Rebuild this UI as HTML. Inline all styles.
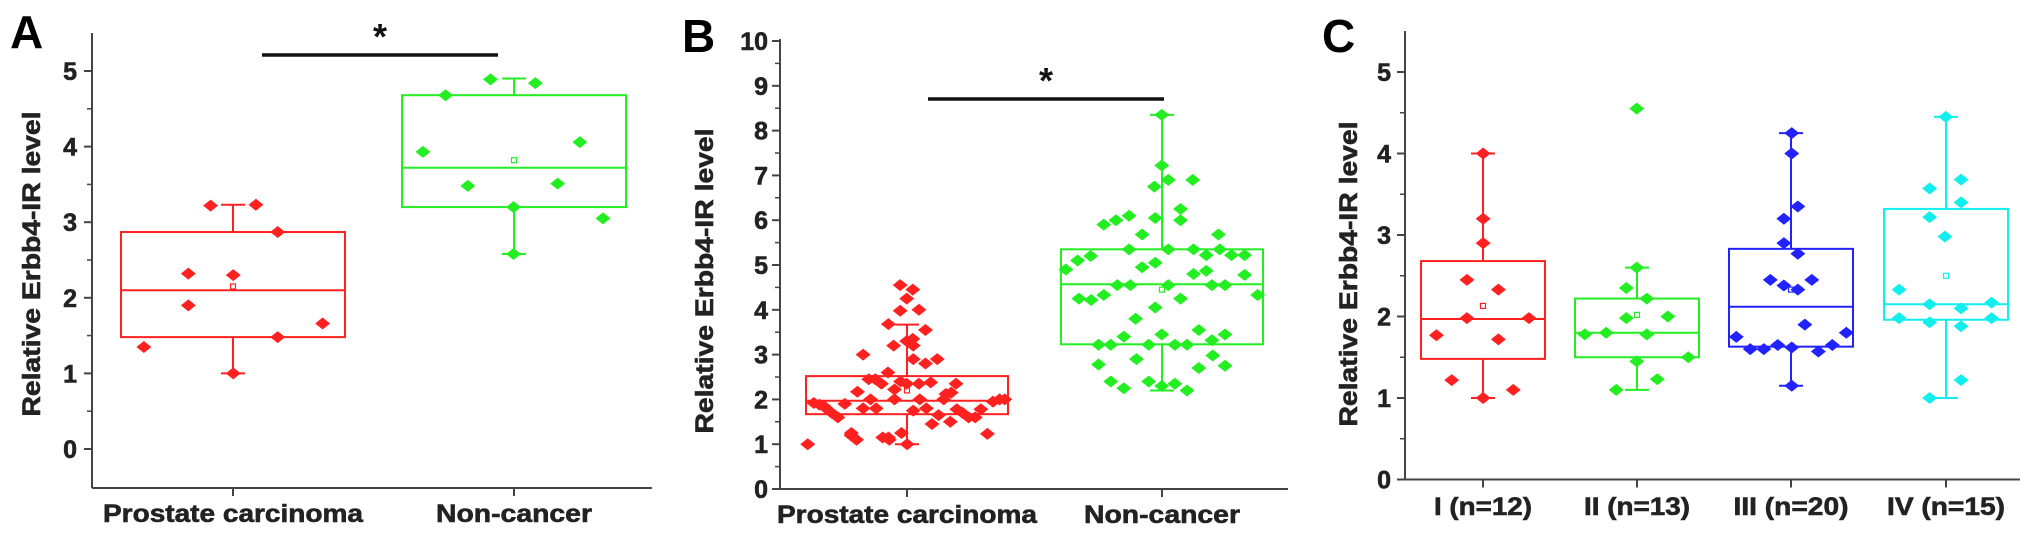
<!DOCTYPE html>
<html><head><meta charset="utf-8">
<style>
html,body{margin:0;padding:0;background:#fff;}
svg{display:block;font-family:"Liberation Sans",Arial,sans-serif;font-weight:bold;}
</style></head>
<body>
<svg id="fig" width="2031" height="535" viewBox="0 0 2031 535" xmlns="http://www.w3.org/2000/svg"></svg>
<script>
// ---------- Panel A data ----------
const aCategories = ["Prostate carcinoma", "Non-cancer"];
const aYTicks = ["0","1","2","3","4","5"];
const aStats = [ // [whiskerLow, q1, median, q3, whiskerHigh, mean]
  [1.0, 1.48, 2.1, 2.87, 3.23, 2.15],
  [2.58, 3.2, 3.72, 4.68, 4.9, 3.82]
];
const aPC = [1.35,2.32,1.9,3.22,2.3,1.0,3.23,2.87,1.48,1.66];
const aPCJit = [330,432,432,483,535,535,587,637,637,740];
const aNC = [3.93,4.68,3.48,4.89,3.2,2.58,4.84,3.51,4.06,3.05];
const aNCJit = [970,1022,1073,1125,1178,1178,1228,1279,1330,1383];

// ---------- Panel B data ----------
const bCategories = ["Prostate carcinoma", "Non-cancer"];
const bYTicks = ["0","1","2","3","4","5","6","7","8","9","10"];
const bStats = [
  [1.0, 1.67, 1.97, 2.52, 3.67, 2.2],
  [2.2, 3.23, 4.57, 5.35, 8.35, 4.45]
];
const bPC = [1.0,1.92,1.88,1.8,1.7,1.6,1.9,1.25,1.1,2.17,3.0,1.8,2.45,2.0,2.45,1.8,2.35,1.15,2.6,3.68,1.1,3.2,2.22,2.0,4.55,2.4,1.25,4.25,3.3,2.35,1.0,4.45,3.35,2.9,1.75,4.0,2.35,2.0,3.55,2.8,1.8,2.38,1.45,2.9,1.65,2.0,2.12,1.5,2.15,2.35,1.78,1.7,1.6,1.6,1.78,1.23,1.95,2.0,2.0,3.98,3.2,1.15,1.2,1.85];
const bPCJit = [293,307,320,335,348,362,378,393,405,407,420,420,433,437,448,450,462,465,477,478,480,490,492,492,505,506,508,520,520,520,521,534,534,535,535,548,548,550,563,563,565,575,578,590,593,605,610,620,622,633,635,648,662,677,690,705,718,733,745,505,535,478,392,330];
const bNC = [4.9,5.1,4.25,5.2,4.22,3.22,2.78,5.9,4.33,3.22,2.4,6.0,4.55,3.4,2.25,6.1,5.35,4.55,3.8,2.9,5.68,4.95,3.22,2.4,6.75,5.05,4.05,6.05,7.22,3.45,2.3,6.9,5.35,4.55,3.22,2.35,6.25,6.0,4.25,3.22,2.2,6.9,5.35,4.8,3.55,2.7,5.22,4.87,4.55,3.32,2.98,5.68,5.35,4.55,3.45,2.75,5.22,5.22,4.78,4.33,8.35];
const bNCJit = [885,912,915,942,943,960,960,972,972,988,988,1000,1003,1018,1018,1030,1030,1033,1045,1047,1060,1060,1075,1075,1088,1090,1090,1090,1105,1105,1105,1120,1120,1120,1135,1135,1148,1148,1148,1163,1163,1176,1178,1178,1190,1190,1207,1207,1220,1220,1222,1235,1238,1250,1250,1250,1265,1295,1295,1325,1105];

// ---------- Panel C data ----------
const cCategories = ["I (n=12)","II (n=13)","III (n=20)","IV (n=15)"];
const cYTicks = ["0","1","2","3","4","5"];
const cStats = [
  [1.0, 1.48, 1.97, 2.68, 4.0, 2.13],
  [1.1, 1.5, 1.8, 2.22, 2.6, 2.02],
  [1.15, 1.63, 2.12, 2.83, 4.25, 2.33],
  [1.0, 1.96, 2.15, 3.32, 4.45, 2.5]
];
const cI = [1.77,1.22,2.45,1.98,4.0,3.2,2.9,1.0,2.33,1.72,1.1,1.98];
const cIJit = [198,233,268,268,305,305,305,305,340,340,374,410];
const cII = [1.78,1.8,2.35,1.98,4.55,1.45,1.1,2.22,1.78,1.23,2.0,1.5,2.6];
const cIIJit = [538,587,633,633,657,657,610,680,680,704,728,775,657];
const cIII = [1.75,1.6,1.6,2.45,1.65,3.2,2.9,2.38,4.25,4.0,1.62,1.15,3.35,2.77,2.33,1.9,2.45,1.57,1.65,1.8];
const cIIIJit = [885,917,948,963,980,994,994,994,1012,1012,1012,1012,1026,1026,1026,1042,1058,1073,1105,1137];
const cIV = [2.33,1.98,3.57,3.22,2.15,1.93,1.0,4.45,2.98,3.68,3.4,2.1,1.88,1.22,2.17,1.98];
const cIVJit = [1258,1258,1328,1328,1328,1328,1328,1365,1363,1400,1400,1400,1400,1400,1470,1470];

const NS = "http://www.w3.org/2000/svg";
const svg = document.getElementById("fig");
function mk(tag, attrs, parent){
  const e = document.createElementNS(NS, tag);
  for (const k in attrs) e.setAttribute(k, attrs[k]);
  (parent||svg).appendChild(e);
  return e;
}

function drawPanel(p){
  const g = mk("g", {});
  
  
  const y = v => p.y0 - (v - p.vmin) * p.unit;
  const L = mk("text", {x:p.letterX, y:p.letterY, "font-size":46, fill:"#000"}, g);
  L.textContent = p.letter;
  
  
  const yAxis = mk("line", {x1:p.ax, y1:p.axTop, x2:p.ax, y2:p.axBottom, stroke:"#444", "stroke-width":2}, g);
  
  
  const xAxis = mk("line", {x1:p.ax, y1:p.axBottom, x2:p.axRight, y2:p.axBottom, stroke:"#444", "stroke-width":2}, g);
  
  
  p.ticks.forEach((t,i)=>{
    const v = parseFloat(t);
    const ty = y(v);
    mk("line", {x1:p.ax-8, y1:ty, x2:p.ax, y2:ty, stroke:"#444", "stroke-width":2}, g);
    const tl = mk("text", {x:p.tickLabelX, y:ty+9, "font-size":25, "text-anchor":"end", fill:"#222", stroke:"#222", "stroke-width":0.6}, g);
    tl.textContent = t;
    
    
    const mv = v + 0.5;
    if (y(mv) > p.axTop + 2) mk("line", {x1:p.ax-5, y1:y(mv), x2:p.ax, y2:y(mv), stroke:"#444", "stroke-width":1.5}, g);
    if (i===0 && y(v-0.5) < p.axBottom - 2) mk("line", {x1:p.ax-5, y1:y(v-0.5), x2:p.ax, y2:y(v-0.5), stroke:"#444", "stroke-width":1.5}, g);
  });
  const yt = mk("text", {x:0, y:0, "font-size":25, "text-anchor":"middle", fill:"#222", stroke:"#222", "stroke-width":0.6,
    transform:`translate(${p.titleX},${p.titleY}) rotate(-90)`, textLength:p.titleLen, lengthAdjust:"spacingAndGlyphs"}, g);
  yt.textContent = "Relative Erbb4-IR level";
  
  
  p.cats.forEach((c,i)=>{
    const cx = p.cx[i];
    mk("line", {x1:cx, y1:p.axBottom, x2:cx, y2:p.axBottom+8, stroke:"#444", "stroke-width":2}, g);
    const xl = mk("text", {x:cx, y:p.xLabelY, "font-size":p.xFont, "text-anchor":"middle", fill:"#222", stroke:"#222", "stroke-width":0.6,
      textLength:p.xLen[i], lengthAdjust:"spacingAndGlyphs"}, g);
    xl.textContent = c;
    
    
    const s = p.stats[i], col = p.colors[i], hw = p.hw;
    const bg = mk("g", {stroke:col, "stroke-width":2, fill:"none"}, g);
    
    
    mk("line", {x1:cx, y1:y(s[0]), x2:cx, y2:y(s[1])}, bg);
    mk("line", {x1:cx, y1:y(s[3]), x2:cx, y2:y(s[4])}, bg);
    mk("line", {x1:cx-12, y1:y(s[0]), x2:cx+12, y2:y(s[0])}, bg);
    mk("line", {x1:cx-12, y1:y(s[4]), x2:cx+12, y2:y(s[4])}, bg);
    mk("rect", {x:cx-hw, y:y(s[3]), width:2*hw, height:y(s[1])-y(s[3])}, bg);
    mk("line", {x1:cx-hw, y1:y(s[2]), x2:cx+hw, y2:y(s[2])}, bg);
    mk("rect", {x:cx-2.5, y:y(s[5])-2.5, width:5, height:5, "stroke-width":1.2}, bg);
    const vals = p.points[i], jit = p.jits[i];
    vals.forEach((v,k)=>{
      const px = p.jx(jit[k]), py = y(v);
      const d = mk("path", {d:`M${px},${py-6} L${px+7.5},${py} L${px},${py+6} L${px-7.5},${py} Z`, fill:col}, g);
      
      
    });
  });
  if (p.sig){
    const sl = mk("line", {x1:p.sig[0], y1:p.sig[2], x2:p.sig[1], y2:p.sig[2], stroke:"#111", "stroke-width":3.5}, g);
    
    
    const st = mk("text", {x:(p.sig[0]+p.sig[1])/2, y:p.sig[2]-6, "font-size":36, "text-anchor":"middle", fill:"#111"}, g);
    st.textContent = "*";
    
    
  }
}

drawPanel({name:"panel-a", letter:"A", letterX:10, letterY:48,
  vmin:0, y0:449, unit:75.6, ax:92, axTop:33, axBottom:488, axRight:652, ticks:aYTicks, tickLabelX:77,
  titleX:40, titleY:264, titleLen:305, cats:aCategories, cx:[233,514], xLabelY:522, xFont:25, xLen:[260,156],
  stats:aStats, colors:["#ff2020","#22ee22"], hw:112, points:[aPC,aNC], jits:[aPCJit,aNCJit],
  jx:z=>z*0.436, sig:[262,498,55]});

drawPanel({name:"panel-b", letter:"B", letterX:682, letterY:52,
  vmin:0, y0:489, unit:44.8, ax:780, axTop:39, axBottom:489, axRight:1288, ticks:bYTicks, tickLabelX:768,
  titleX:713, titleY:281, titleLen:305, cats:bCategories, cx:[907,1162], xLabelY:523, xFont:25, xLen:[260,156],
  stats:bStats, colors:["#ff2020","#22ee22"], hw:101, points:[bPC,bNC], jits:[bPCJit,bNCJit],
  jx:z=>680+z*0.436, sig:[928,1164,99]});

drawPanel({name:"panel-c", letter:"C", letterX:1322, letterY:52,
  vmin:0, y0:479.5, unit:81.5, ax:1405, axTop:31, axBottom:479.5, axRight:2020, ticks:cYTicks, tickLabelX:1391,
  titleX:1357, titleY:274, titleLen:305, cats:cCategories, cx:[1483,1637,1791,1946], xLabelY:515, xFont:25, xLen:[98,106,115,118],
  stats:cStats, colors:["#ff2020","#22ee22","#2222ff","#11eeee"], hw:62, points:[cI,cII,cIII,cIV], jits:[cIJit,cIIJit,cIIIJit,cIVJit],
  jx:z=>1350+z*0.4365, sig:null});
</script>
</body></html>
